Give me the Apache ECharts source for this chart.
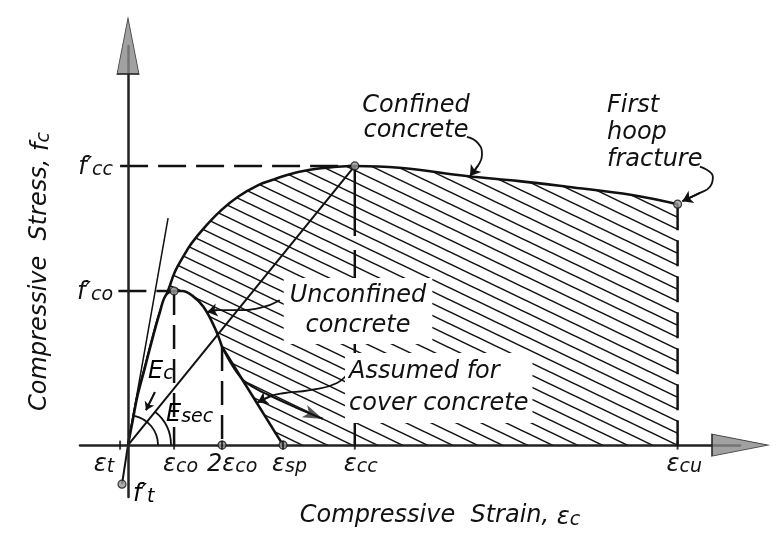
<!DOCTYPE html>
<html>
<head>
<meta charset="utf-8">
<title>Stress-strain model for confined and unconfined concrete</title>
<script src="https://cdn.jsdelivr.net/npm/echarts/dist/echarts.min.js"></script>
<style>
  html, body { margin: 0; padding: 0; background: #fff; }
  #chart { width: 776px; height: 554px; }
</style>
</head>
<body>
<div id="chart"></div>
<script>
// strain in 0.001 units, stress in MPa (scale)
const epsT = -0.33, epsCo = 1.92, eps2Co = 3.92, epsSp = 6.46, epsCc = 9.45, epsCu = 22.9;
const fco = 30, fcc = 54.35, fcu = 46.9, fAt2Co = 19.1;
const ftStrain = -0.25, ft = -7.6;

const confinedStrain = [0, 0.2, 0.4, 0.7, 1.0, 1.33, 1.68, 1.96, 2.3, 2.65, 3.21, 3.9, 4.6, 5.43, 6.0, 6.63, 7.58, 8.71, 9.45, 11.3, 14.1, 16.3, 18.3, 21.0, 22.9];
const confinedStress = [0, 4.9, 9.7, 15.0, 20.4, 25.9, 30.2, 33.8, 36.7, 39.3, 42.5, 45.8, 48.4, 50.6, 51.6, 52.6, 53.6, 54.2, 54.35, 54.0, 52.4, 51.4, 50.3, 48.7, 46.9];

const unconfinedStrain = [0, 0.2, 0.4, 0.7, 1.0, 1.33, 1.58, 1.92, 2.25, 2.68, 3.15, 3.62, 3.92];
const unconfinedStress = [0, 4.9, 9.7, 15.0, 20.4, 25.9, 29.2, 30.0, 30.0, 29.1, 26.9, 22.8, 19.1];

const coverStrain = [3.92, 6.46];
const coverStress = [19.1, 0];

const descendStrain = [3.92, 4.33, 4.79, 5.29, 5.79, 6.96, 8.12];
const descendStress = [19.1, 15.6, 12.7, 11.1, 9.9, 7.4, 5.1];

const ecStrain = [0, 1.67];
const ecStress = [0, 44.2];

const strainTicks = [epsT, epsCo, eps2Co, epsSp, epsCc, epsCu];
const strainTickText = ['{m|ε}{s|t}', '{m|ε}{s|co}', '{m|2ε}{s|co}', '{m|ε}{s|sp}', '{m|ε}{s|cc}', '{m|ε}{s|cu}'];
const stressTicks = [fco, fcc];
const stressTickText = ['{m|f′}{s|co}', '{m|f′}{s|cc}'];

// leader lines: [strain], [stress], last point is the arrow tip
const leaderConfinedX = [14.12, 14.58, 14.75, 14.58, 14.25];
const leaderConfinedY = [60.0, 58.8, 56.5, 54.4, 52.4];
const leaderHoopX = [23.83, 24.37, 24.25, 23.83, 23.1];
const leaderHoopY = [54.2, 52.2, 50.3, 49.1, 47.5];
const leaderUnconfX = [6.33, 5.5, 4.67, 3.71, 3.3];
const leaderUnconfY = [28.2, 26.7, 26.3, 26.3, 25.9];
const leaderCoverX = [9.25, 8.71, 7.58, 6.46, 5.92, 5.4];
const leaderCoverY = [14.6, 12.1, 10.7, 10.1, 9.5, 8.3];
const arrowEcX = [1.12, 0.75];
const arrowEcY = [10.3, 6.8];

const xMin = -2, xMax = 25.5, yMin = -10.1, yMax = 77.7;

const FONT = '"DejaVu Sans", "Liberation Sans", sans-serif';
const INK = '#111';
const rich = {
  m: { fontFamily: FONT, fontStyle: 'italic', fontSize: 24, color: INK, lineHeight: 28, verticalAlign: 'bottom' },
  s: { fontFamily: FONT, fontStyle: 'italic', fontSize: 19, color: INK, lineHeight: 16, verticalAlign: 'bottom' }
};

function pairs(xs, ys) { return xs.map((x, i) => [x, ys[i]]); }

function makeHatch() {
  const c = document.createElement('canvas');
  c.width = 25; c.height = 12;
  const g = c.getContext('2d');
  g.strokeStyle = INK; g.lineWidth = 1.5;
  for (let k = -1; k <= 1; k++) {
    g.beginPath(); g.moveTo(-25, -12 + k * 12); g.lineTo(50, 24 + k * 12); g.stroke();
  }
  return c;
}

function plain(name, data, width, dash, z) {
  return {
    name: name, type: 'line', data: data, symbol: 'none', z: z || 4,
    lineStyle: { color: INK, width: width, type: dash || 'solid' }
  };
}

function leader(name, xs, ys, size) {
  const n = xs.length;
  const s = plain(name, pairs(xs, ys), 1.8, 'solid', 6);
  s.smooth = 0.5;
  s.markLine = {
    silent: true, symbol: ['none', 'arrow'], symbolSize: size || 10,
    label: { show: false },
    lineStyle: { color: INK, width: 1.8, type: 'solid' },
    data: [[{ coord: [xs[n - 2], ys[n - 2]] }, { coord: [xs[n - 1], ys[n - 1]] }]]
  };
  return s;
}

const chart = echarts.init(document.getElementById('chart'), null, { renderer: 'canvas' });

const descend = plain('Unconfined (descending)', pairs(descendStrain, descendStress), 2, 'solid', 5);
descend.smooth = 0.4;
descend.markLine = {
  silent: true, symbol: ['none', 'arrow'], symbolSize: [10, 20],
  label: { show: false },
  lineStyle: { color: '#555', width: 2, type: 'solid' },
  data: [[{ coord: [descendStrain[5], descendStress[5]] }, { coord: [descendStrain[6], descendStress[6]] }]]
};

// with onZero, axis labels and names are offset from the grid edge, not the zero line
const option = {
  animation: false,
  backgroundColor: '#fff',
  grid: { left: 80, right: 36, top: 46, bottom: 57, containLabel: false, outerBoundsMode: 'none' },
  xAxis: {
    type: 'value', min: xMin, max: xMax, z: 8,
    name: 'Compressive  Strain, {m|ε}{s|c}',
    nameLocation: 'middle', nameGap: 5, nameMoveOverlap: false,
    nameTextStyle: { fontFamily: FONT, fontStyle: 'italic', fontSize: 24, color: INK, padding: [0, 0, 0, 60], rich: rich },
    axisLine: { show: true, onZero: true, lineStyle: { color: '#222', width: 2.5 } },
    axisTick: { show: false }, axisLabel: { show: false }, splitLine: { show: false }
  },
  yAxis: {
    type: 'value', min: yMin, max: yMax, z: 8,
    name: 'Compressive  Stress, {m|f}{s|c}',
    nameLocation: 'middle', nameGap: 26, nameRotate: 90, nameMoveOverlap: false,
    nameTextStyle: { fontFamily: FONT, fontStyle: 'italic', fontSize: 24, color: INK, rich: rich },
    axisLine: { show: true, onZero: true, lineStyle: { color: '#222', width: 2.5 } },
    axisTick: { show: false }, splitLine: { show: false },
    axisLabel: {
      show: true, customValues: stressTicks, margin: -33, color: INK,
      formatter: v => stressTickText[stressTicks.indexOf(v)], rich: rich
    }
  },
  series: [
    {
      name: 'Confined concrete', type: 'line', z: 1, smooth: 0.4, symbol: 'none',
      data: pairs(confinedStrain, confinedStress),
      lineStyle: { color: INK, width: 2.6 },
      areaStyle: { color: { image: makeHatch(), repeat: 'repeat' }, opacity: 1 }
    },
    {
      name: 'Unconfined concrete', type: 'line', z: 2, smooth: 0.4, symbol: 'none',
      data: pairs(unconfinedStrain, unconfinedStress),
      lineStyle: { color: INK, width: 2.6 },
      areaStyle: { color: '#fff', opacity: 1 }
    },
    {
      name: 'Assumed for cover concrete', type: 'line', z: 2, symbol: 'none',
      data: pairs(coverStrain, coverStress),
      lineStyle: { color: INK, width: 2.6 },
      areaStyle: { color: '#fff', opacity: 1 }
    },
    descend,
    plain('Esec', [[0, 0], [epsCc, fcc]], 2, 'solid', 4),
    plain('Ec', pairs(ecStrain, ecStress), 1.5, 'solid', 4),
    plain('Tension', [[0, 0], [ftStrain, ft]], 2, 'solid', 4),
    plain('fcc guide', [[-0.33, fcc], [epsCc, fcc]], 2.5, [28, 10], 3),
    plain('fco guide', [[-0.4, fco], [epsCo, fco]], 2.5, [28, 10], 3),
    plain('eco guide', [[epsCo, fco], [epsCo, 0]], 2.5, [24, 10], 3),
    plain('2eco guide', [[eps2Co, fAt2Co], [eps2Co, 0]], 2.5, [24, 10], 3),
    plain('ecc guide', [[epsCc, fcc], [epsCc, 0]], 2.5, [70, 14], 3),
    plain('ecu guide', [[epsCu, fcu], [epsCu, 0]], 2.5, [26, 10], 3),
    leader('Confined leader', leaderConfinedX, leaderConfinedY),
    leader('Hoop leader', leaderHoopX, leaderHoopY),
    leader('Unconfined leader', leaderUnconfX, leaderUnconfY),
    leader('Cover leader', leaderCoverX, leaderCoverY),
    leader('Ec pointer', arrowEcX, arrowEcY, 8),
    {
      name: 'Key points', type: 'scatter', z: 9, symbol: 'circle', symbolSize: 8, clip: false,
      data: [[epsCo, fco], [epsCc, fcc], [epsCu, fcu], [ftStrain, ft], [epsSp, 0], [eps2Co, 0]],
      itemStyle: { color: '#9a9a9a', borderColor: INK, borderWidth: 1.2 }
    },
    {
      name: 'Strain ticks', type: 'scatter', z: 9, symbol: 'rect', symbolSize: [2, 9], clip: false,
      itemStyle: { color: INK },
      data: strainTicks.map((v, i) => ({
        value: [v, 0],
        label: {
          show: true, position: 'bottom', distance: -1, formatter: strainTickText[i], rich: rich,
          color: INK, opacity: 1,
          align: i === 0 ? 'right' : 'left',
          offset: [i === 0 ? -6 : (i === 2 ? -15 : -11), 0]
        }
      }))
    },
    {
      name: 'Axis arrows', type: 'scatter', z: 9, symbol: 'triangle', symbolSize: [22, 56], clip: false,
      itemStyle: { color: '#8a8a8a', borderColor: '#222', borderWidth: 1.2 },
      data: [{ value: [xMax, 0], symbolRotate: -90 }, { value: [0, yMax], symbolRotate: 0 }]
    }
  ]
};

chart.setOption(option);

const o = chart.convertToPixel({ xAxisIndex: 0, yAxisIndex: 0 }, [0, 0]);
const textStyle = { fontFamily: FONT, fontStyle: 'italic', fontSize: 24, fill: INK };

chart.setOption({
  graphic: [
    { type: 'arc', z: 20, shape: { cx: o[0], cy: o[1], r: 43, startAngle: -0.89, endAngle: 0, clockwise: true },
      style: { stroke: INK, lineWidth: 1.8, fill: 'none' } },
    { type: 'arc', z: 20, shape: { cx: o[0], cy: o[1], r: 30, startAngle: -1.36, endAngle: 0, clockwise: true },
      style: { stroke: INK, lineWidth: 1.8, fill: 'none' } },
    { type: 'text', z: 30, style: Object.assign({}, textStyle, {
      text: 'Confined\nconcrete', x: 416, y: 118, align: 'center', verticalAlign: 'middle', lineHeight: 25 }) },
    { type: 'text', z: 30, style: Object.assign({}, textStyle, {
      text: 'First\nhoop\nfracture', x: 607, y: 92, align: 'left', verticalAlign: 'top', lineHeight: 27 }) },
    { type: 'text', z: 30, style: Object.assign({}, textStyle, {
      text: 'Unconfined\nconcrete', x: 358, y: 311, align: 'center', verticalAlign: 'middle', lineHeight: 30,
      backgroundColor: '#fff', padding: [3, 6] }) },
    { type: 'text', z: 30, style: Object.assign({}, textStyle, {
      text: 'Assumed for\ncover concrete', x: 345, y: 388, align: 'left', verticalAlign: 'middle', lineHeight: 32,
      backgroundColor: '#fff', padding: [3, 4] }) },
    { type: 'text', z: 30, style: { text: '{m|E}{s|c}', rich: rich, x: 148, y: 370, verticalAlign: 'middle' } },
    { type: 'text', z: 30, style: { text: '{m|E}{s|sec}', rich: rich, x: 166, y: 413, verticalAlign: 'middle' } },
    { type: 'text', z: 30, style: { text: '{m|f′}{s|t}', rich: rich, x: 133, y: 493, verticalAlign: 'middle' } }
  ]
});
</script>
</body>
</html>
